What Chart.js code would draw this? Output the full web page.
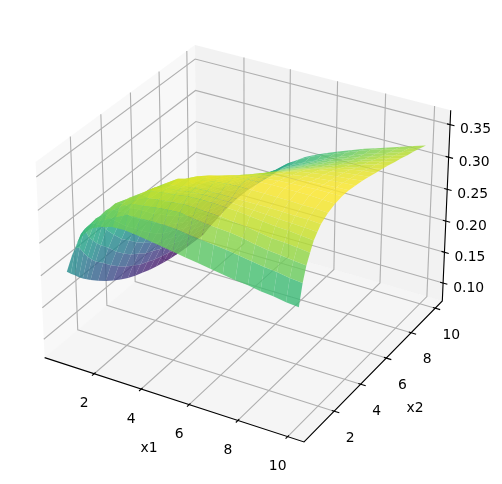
<!DOCTYPE html>
<html>
<head>
<meta charset="utf-8">
<title>surface</title>
<script src="https://cdn.jsdelivr.net/npm/chart.js@4/dist/chart.umd.min.js"></script>
<style>
body{margin:0;background:#fff;}
canvas{display:block;}
</style>
</head>
<body>
<canvas id="surface_chart" width="502" height="484"></canvas>
<script>
const x1_values=[0.5,0.75,1,1.25,1.5,1.75,2,2.5,3,3.5,4,4.5,5,5.5,6,6.5,7,7.5,8,8.5,9,9.5,10];
const x2_values=[0.5,0.75,1,1.25,1.5,1.75,2,2.5,3,3.5,4,4.5,5,5.5,6,6.5,7,7.5,8,8.5,9,9.5,10];

// z per x2 row (x 1000)
const z_rows=[
[200,228,250,264,275,281,285,290,291,289,286,283,280,277,274,271,268,265,263,260,258,255,253],
[192,235,259,272,279,286,290,300,309,309,310,310,309,306,304,302,300,297,294,291,289,286,284],
[185,230,262,272,283,291,298,310,321,323,326,328,329,326,324,322,321,318,314,311,309,307,305],
[177,218,244,268,282,293,301,313,322,330,333,335,337,336,335,334,332,330,327,324,323,321,319],
[170,207,235,262,280,292,302,314,324,336,339,341,344,345,345,344,343,341,339,337,336,334,332],
[164,198,226,256,274,286,298,312,324,337,341,343,346,347,347,347,346,345,344,343,342,341,340],
[158,190,218,245,264,279,293,310,322,331,341,345,347,348,349,349,349,349,349,349,348,348,347],
[147,178,205,228,249,268,277,303,318,330,342,347,350,353,355,356,356,356,356,356,355,355,354],
[137,165,189,212,234,251,266,288,305,318,333,342,348,353,356,358,359,360,360,360,360,359,358],
[128,154,177,200,222,239,254,278,293,306,317,331,339,345,349,353,355,357,358,359,360,360,360],
[120,144,166,188,209,226,241,265,285,296,307,320,330,336,342,347,350,353,355,357,358,359,360],
[113,136,158,178,197,215,231,256,274,290,302,311,320,328,334,340,345,348,351,353,355,357,358],
[107,128,149,168,186,204,220,244,264,279,291,302,311,320,327,333,339,344,347,350,352,354,356],
[102,123,143,160,177,194,210,236,256,269,282,293,302,311,318,325,332,338,343,346,349,351,353],
[97,117,137,154,171,186,200,226,246,261,273,285,295,304,312,318,325,331,336,341,345,348,350],
[93,113,133,149,164,179,193,219,239,254,266,277,287,297,305,312,318,324,330,335,339,343,347],
[90,109,128,143,158,172,186,210,231,247,259,270,281,290,298,305,312,318,324,330,335,340,344],
[87,105,122,138,153,167,181,203,224,240,253,264,274,284,292,300,306,313,319,325,331,336,340],
[85,102,118,134,149,162,175,196,216,233,247,259,268,278,286,294,301,308,314,320,326,332,337],
[83,99,115,130,145,158,170,189,209,227,242,254,264,272,281,289,297,303,310,316,322,328,333],
[82,97,112,126,140,153,165,184,203,221,236,248,259,268,276,285,292,299,306,312,318,324,330],
[81,95,109,122,135,148,160,180,199,216,232,247,259,268,276,283,290,297,304,310,315,320,326],
[80,94,107,120,132,144,155,175,192,208,226,242,254,263,271,278,285,292,298,304,310,316,322]
];

const x1_ticks=[2,4,6,8,10];
const x2_ticks=[2,4,6,8,10];
const z_ticks=[0.10,0.15,0.20,0.25,0.30,0.35];
const x1_lim=[-0.15,10.65];
const x2_lim=[-0.2,10.6];
const z_lim=[0.0705,0.372];

const viridis=["#440154","#482576","#414487","#355f8d","#2a788e","#21918c","#22a884","#43bf71","#7ad151","#bddf26","#fde725"];

// view at elev 30, azim -60, distance 10, box 4:4:3
const box=[1.1429,1.1429,0.85714];
const u=[0.866,0.5,0];
const v=[-0.25,0.433,0.866];
const w=[0.433,-0.75,0.5];

function dot(a,b){
    return a[0]*b[0]+a[1]*b[1]+a[2]*b[2];
}

function box_pos(x1,x2,z){
    return [
        box[0]*((x1-x1_lim[0])/(x1_lim[1]-x1_lim[0])-0.5),
        box[1]*((x2-x2_lim[0])/(x2_lim[1]-x2_lim[0])-0.5),
        box[2]*((z-z_lim[0])/(z_lim[1]-z_lim[0])-0.5)
    ];
}

function project(x1,x2,z){
    let q=box_pos(x1,x2,z);
    let d=10-dot(w,q);
    return {x:dot(u,q)/d,y:dot(v,q)/d};
}

function hex_rgb(h){
    return [parseInt(h.slice(1,3),16),parseInt(h.slice(3,5),16),parseInt(h.slice(5,7),16)];
}

function viridis_color(t,alpha){
    let p=Math.min(Math.max(t,0),1)*(viridis.length-1);
    let i=Math.min(Math.floor(p),viridis.length-2);
    let a=hex_rgb(viridis[i]);
    let b=hex_rgb(viridis[i+1]);
    let f=p-i;
    return "rgba("+Math.round(a[0]+(b[0]-a[0])*f)+","+Math.round(a[1]+(b[1]-a[1])*f)+","+Math.round(a[2]+(b[2]-a[2])*f)+","+alpha+")";
}

function polygon(points,color){
    return {data:points,showLine:true,fill:'shape',backgroundColor:color,borderWidth:0,pointRadius:0,clip:false};
}

function polyline(points,color,width){
    return {data:points,showLine:true,fill:false,borderColor:color,borderWidth:width,pointRadius:0,clip:false};
}

let datasets=[];
const x0=x1_lim[0],x9=x1_lim[1],y0=x2_lim[0],y9=x2_lim[1],z0=z_lim[0],z9=z_lim[1];

// panes
datasets.push(polygon([project(x0,y0,z0),project(x0,y9,z0),project(x0,y9,z9),project(x0,y0,z9)],"rgba(242,242,242,0.5)"));
datasets.push(polygon([project(x0,y9,z0),project(x9,y9,z0),project(x9,y9,z9),project(x0,y9,z9)],"rgba(230,230,230,0.5)"));
datasets.push(polygon([project(x0,y0,z0),project(x9,y0,z0),project(x9,y9,z0),project(x0,y9,z0)],"rgba(236,236,236,0.5)"));

// grid lines
for(let t of x1_ticks){
    datasets.push(polyline([project(t,y0,z0),project(t,y9,z0),project(t,y9,z9)],"#b0b0b0",1.11));
}
for(let t of x2_ticks){
    datasets.push(polyline([project(x9,t,z0),project(x0,t,z0),project(x0,t,z9)],"#b0b0b0",1.11));
}
for(let t of z_ticks){
    datasets.push(polyline([project(x0,y0,t),project(x0,y9,t),project(x9,y9,t)],"#b0b0b0",1.11));
}

// axis lines and tick marks
datasets.push(polyline([project(x0,y0,z0),project(x9,y0,z0),project(x9,y9,z0),project(x9,y9,z9)],"#000",1.11));
const dx1=x9-x0,dx2=y9-y0;
for(let t of x1_ticks){
    datasets.push(polyline([project(t,y0-0.0135*dx2,z0),project(t,y0+0.0085*dx2,z0)],"#000",1.11));
}
for(let t of x2_ticks){
    datasets.push(polyline([project(x9-0.009*dx1,t,z0),project(x9+0.019*dx1,t,z0)],"#000",1.11));
}
for(let t of z_ticks){
    datasets.push(polyline([project(x9-0.0115*dx1,y9,t),project(x9+0.0165*dx1,y9,t)],"#000",1.11));
}

// surface facets, far ones first
let facets=[];
let z_flat=z_rows.flat();
let z_min=Math.min(...z_flat);
let z_max=Math.max(...z_flat);
for(let r=0;r<x2_values.length-1;r++){
    for(let c=0;c<x1_values.length-1;c++){
        let z_a=z_rows[r][c]/1000,z_b=z_rows[r][c+1]/1000,z_c=z_rows[r+1][c+1]/1000,z_d=z_rows[r+1][c]/1000;
        let mean=(z_a+z_b+z_c+z_d)/4;
        let mid=box_pos((x1_values[c]+x1_values[c+1])/2,(x2_values[r]+x2_values[r+1])/2,mean);
        facets.push({
            depth:dot(w,mid),
            set:polygon([
                project(x1_values[c],x2_values[r],z_a),
                project(x1_values[c+1],x2_values[r],z_b),
                project(x1_values[c+1],x2_values[r+1],z_c),
                project(x1_values[c],x2_values[r+1],z_d)
            ],viridis_color((mean*1000-z_min)/(z_max-z_min),0.8))
        });
    }
}
facets.sort((a,b)=>a.depth-b.depth);
for(let f of facets){
    datasets.push(f.set);
}

// chart draws the last dataset first
datasets.reverse();

const tick_text={
    id:'tick_text',
    afterDatasetsDraw(chart){
        const ctx=chart.ctx;
        const sx=chart.scales.x;
        const sy=chart.scales.y;
        function label(text,p,ox,oy){
            ctx.fillText(text,sx.getPixelForValue(p.x)+ox,sy.getPixelForValue(p.y)+oy);
        }
        ctx.save();
        ctx.font="13.9px 'DejaVu Sans'";
        ctx.fillStyle="#000";
        ctx.textAlign="center";
        ctx.textBaseline="middle";
        for(let t of x1_ticks){
            label(String(t),project(t,y0,z0),-10,30);
        }
        for(let t of x2_ticks){
            label(String(t),project(x9,t,z0),16,27);
        }
        for(let t of z_ticks){
            label(t.toFixed(2),project(x9,y9,t),25.5,5);
        }
        label("x1",project((x0+x9)/2,y0,z0),-22,50);
        label("x2",project(x9,(y0+y9)/2,z0),39,40);
        ctx.restore();
    }
};

const graph=document.getElementById('surface_chart').getContext('2d');
new Chart(graph,{
    type:'scatter',
    data:{datasets:datasets},
    options:{
        responsive:false,
        animation:false,
        layout:{padding:0},
        elements:{line:{tension:0}},
        plugins:{legend:{display:false},tooltip:{enabled:false},title:{display:false}},
        scales:{
            x:{type:'linear',display:false,min:-0.09496,max:0.09804},
            y:{type:'linear',display:false,min:-0.09600,max:0.09008}
        }
    },
    plugins:[tick_text]
});
</script>
</body>
</html>
